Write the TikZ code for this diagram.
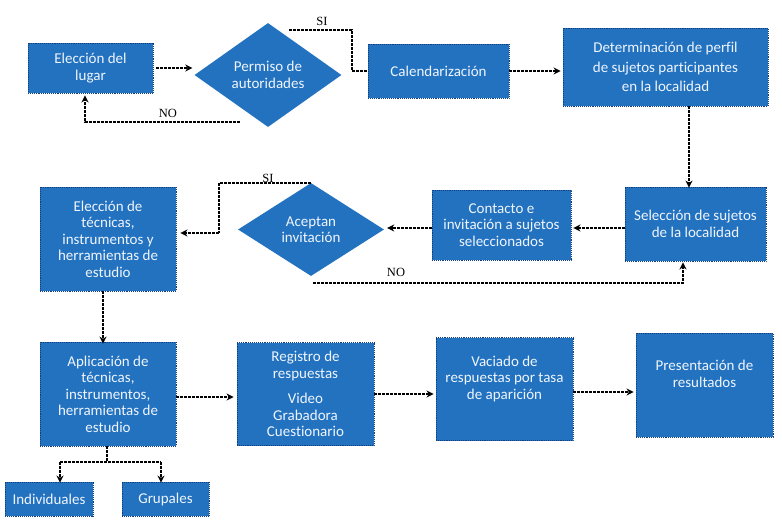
\documentclass[tikz,border=0pt]{standalone}
\usepackage{fontspec}
\setmainfont{Carlito}[Ligatures=NoCommon]
\newfontfamily\lblfont{Liberation Serif}
\usetikzlibrary{shapes.geometric,arrows.meta}
\definecolor{boxblue}{RGB}{34,114,192}
\definecolor{boxedge}{RGB}{18,62,125}
\definecolor{boxtext}{RGB}{240,245,253}
\tikzset{
  box/.style={rectangle, fill=boxblue, draw=boxedge, densely dotted, line width=0.9pt,
    text=boxtext, align=center, inner sep=2pt,
    font=\fontsize{15}{16.5}\selectfont},
  dia/.style={diamond, fill=boxblue, draw=none, text=boxtext, align=center,
    inner sep=0pt, aspect=1.4, font=\fontsize{15}{16.5}\selectfont},
  arr/.style={draw=black, dash pattern=on 3pt off 1pt, line width=1.8pt,
    -{Stealth[length=7pt,width=7pt]}},
  ln/.style={draw=black, dash pattern=on 3pt off 1pt, line width=1.8pt},
  lbl/.style={font=\lblfont\fontsize{12.5}{13}\selectfont, inner sep=0pt}
}
\begin{document}
\begin{tikzpicture}[x=1pt,y=-1pt]
\useasboundingbox (0,0) rectangle (782,523);
% row 1
\node[box, minimum width=125, minimum height=50] (e1) at (90.5,68) {Elección del\\lugar};
\node[dia, minimum width=147, minimum height=104] (perm) at (268,75) {Permiso de\\autoridades};
\node[box, minimum width=141, minimum height=54] (cal) at (438.5,71) {Calendarización};
\node[box, minimum width=205, minimum height=78] (det) at (665.5,67) {Determinación de perfil\\[3pt]de sujetos participantes\\[3pt]en la localidad};
% row 2
\node[box, minimum width=141, minimum height=74] (sel) at (695.5,224) {Selección de sujetos\\de la localidad};
\node[box, minimum width=139, minimum height=70] (con) at (501.5,225) {Contacto e\\invitación a sujetos\\seleccionados};
\node[dia, minimum width=146, minimum height=93] (acep) at (311,229.5) {Aceptan\\invitación};
\node[box, minimum width=136, minimum height=104] (tec) at (108,239) {Elección de\\técnicas,\\instrumentos y\\herramientas de\\estudio};
% row 3
\node[box, minimum width=136, minimum height=104] (apl) at (108,394) {Aplicación de\\técnicas,\\instrumentos,\\herramientas de\\estudio};
\node[box, minimum width=137, minimum height=103] (reg) at (305.5,394) {Registro de\\respuestas\\[9pt]Video\\Grabadora\\Cuestionario};
\node[box, minimum width=137, minimum height=103] (vac) at (504.5,389) {Vaciado de\\respuestas por tasa\\de aparición\\[6pt]};
\node[box, minimum width=137, minimum height=104] (pre) at (704.5,385) {Presentación de\\resultados\\[6pt]};
% row 4
\node[box, minimum width=88, minimum height=34] (ind) at (49,499) {Individuales};
\node[box, minimum width=87, minimum height=34] (gru) at (165.5,499) {Grupales};
% coordinates
\coordinate (si1s) at (289,30);
\coordinate (si1c) at (352,30);
\coordinate (no1s) at (240,122);
\coordinate (no1c) at (85,122);
\coordinate (si2c) at (219,233);
\coordinate (no2s) at (313,283);
\coordinate (no2c) at (683,283);
\coordinate (tr) at (107,462);
\coordinate (trl) at (60,462);
\coordinate (trr) at (161,462);
% connectors
\draw[arr] ([xshift=3pt]e1.east) -- ([xshift=-2pt]e1.east -| perm.west);
\draw[ln] (si1s) -- (si1c) |- (cal.west);
\node[lbl] (si1) at (322,21) {SI};
\draw[arr] (no1s) -- (no1c) -- ([yshift=-2pt]no1c |- e1.south);
\node[lbl] (no1) at (168,113) {NO};
\draw[arr] (cal.east) -- ([xshift=-2pt]cal.east -| det.west);
\draw[arr] ([xshift=23.5pt]det.south) -- ([xshift=23.5pt,yshift=-1pt]det.south |- sel.north);
\draw[arr] ([yshift=-4pt]sel.west) -- ([xshift=2pt,yshift=-4pt]sel.west -| con.east);
\draw[arr] ([yshift=-3pt]con.west) -- ([xshift=3pt,yshift=-3pt]con.west -| acep.east);
\draw[ln] (acep.north) -| (si2c);
\draw[arr] (si2c) -- ([xshift=4pt]si2c -| tec.east);
\node[lbl] (si2) at (268,178) {SI};
\draw[arr] (no2s) -- (no2c) -- ([yshift=-1pt]no2c |- sel.south);
\node[lbl] (no2) at (396,272) {NO};
\draw[arr] ([xshift=-5pt]tec.south) -- ([xshift=-5pt,yshift=-2pt]tec.south |- apl.north);
\draw[arr] ([yshift=-3pt]apl.east) -- ([xshift=-3pt,yshift=-3pt]apl.east -| reg.west);
\draw[arr] (reg.east) -- ([xshift=-2pt]reg.east -| vac.west);
\draw[arr] ([yshift=-3pt]vac.east) -- ([xshift=-2pt,yshift=-3pt]vac.east -| pre.west);
\draw[ln] (apl.south -| tr) -- (tr);
\draw[ln] (trl) -- (trr);
\draw[arr] (trl) -- ([yshift=-1pt]trl |- ind.north);
\draw[arr] (trr) -- ([yshift=-1pt]trr |- gru.north);
\end{tikzpicture}
\end{document}
